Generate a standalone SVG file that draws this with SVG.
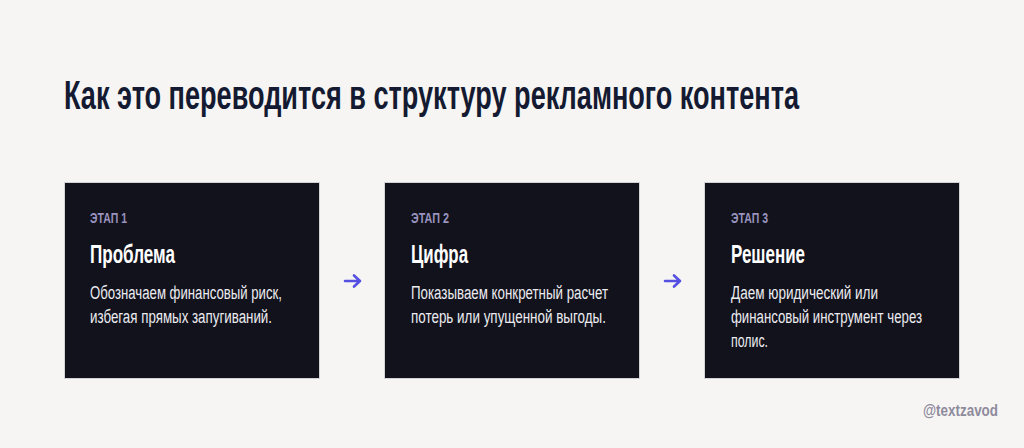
<svg xmlns="http://www.w3.org/2000/svg" width="1024" height="448" viewBox="0 0 1024 448">
<style>
.t{font-family:"Liberation Sans Narrow","Liberation Sans",Arial,sans-serif;}
.title{font-size:40px;font-weight:bold;fill:#141a31;}
.card{fill:#12121d;stroke:#d4d3d6;stroke-width:1;}
.step{font-size:14px;font-weight:bold;fill:#9993bd;}
.head{font-size:25px;font-weight:bold;fill:#ffffff;}
.body{font-size:18px;fill:#ececf0;}
.brand{font-size:17px;font-weight:bold;fill:#8e8b9d;}
.arr{fill:none;stroke:#5550e0;stroke-width:2.6;stroke-linecap:round;stroke-linejoin:round;}
</style>
<rect width="1024" height="448" fill="#f6f5f3"/>
<text class="t title" x="64" y="109" textLength="735" lengthAdjust="spacingAndGlyphs">Как это переводится в структуру рекламного контента</text>
<g id="stage1">
<rect class="card" x="64.5" y="182.5" width="255" height="196"/>
<text class="t step" x="90" y="223" textLength="37" lengthAdjust="spacingAndGlyphs">ЭТАП 1</text>
<text class="t head" x="90" y="263" textLength="85" lengthAdjust="spacingAndGlyphs">Проблема</text>
<text class="t body" x="90" y="299" textLength="192" lengthAdjust="spacingAndGlyphs">Обозначаем финансовый риск,</text>
<text class="t body" x="90" y="323" textLength="182" lengthAdjust="spacingAndGlyphs">избегая прямых запугиваний.</text>
</g>
<g id="stage2">
<rect class="card" x="384.5" y="182.5" width="255" height="196"/>
<text class="t step" x="411" y="223" textLength="38" lengthAdjust="spacingAndGlyphs">ЭТАП 2</text>
<text class="t head" x="411" y="263" textLength="57" lengthAdjust="spacingAndGlyphs">Цифра</text>
<text class="t body" x="411" y="299" textLength="197" lengthAdjust="spacingAndGlyphs">Показываем конкретный расчет</text>
<text class="t body" x="411" y="323" textLength="195" lengthAdjust="spacingAndGlyphs">потерь или упущенной выгоды.</text>
</g>
<g id="stage3">
<rect class="card" x="704.5" y="182.5" width="255" height="196"/>
<text class="t step" x="731" y="223" textLength="37" lengthAdjust="spacingAndGlyphs">ЭТАП 3</text>
<text class="t head" x="731" y="263" textLength="74" lengthAdjust="spacingAndGlyphs">Решение</text>
<text class="t body" x="731" y="299" textLength="147" lengthAdjust="spacingAndGlyphs">Даем юридический или</text>
<text class="t body" x="731" y="323" textLength="191" lengthAdjust="spacingAndGlyphs">финансовый инструмент через</text>
<text class="t body" x="731" y="347" textLength="37" lengthAdjust="spacingAndGlyphs">полис.</text>
</g>
<g id="connectors">
<path class="arr" d="M345 281 H360 M354 275.5 L360 281 L354 286.5"/>
<path class="arr" d="M665 281 H680 M674 275.5 L680 281 L674 286.5"/>
</g>
<text class="t brand" x="923" y="416" textLength="75" lengthAdjust="spacingAndGlyphs">@textzavod</text>
</svg>
